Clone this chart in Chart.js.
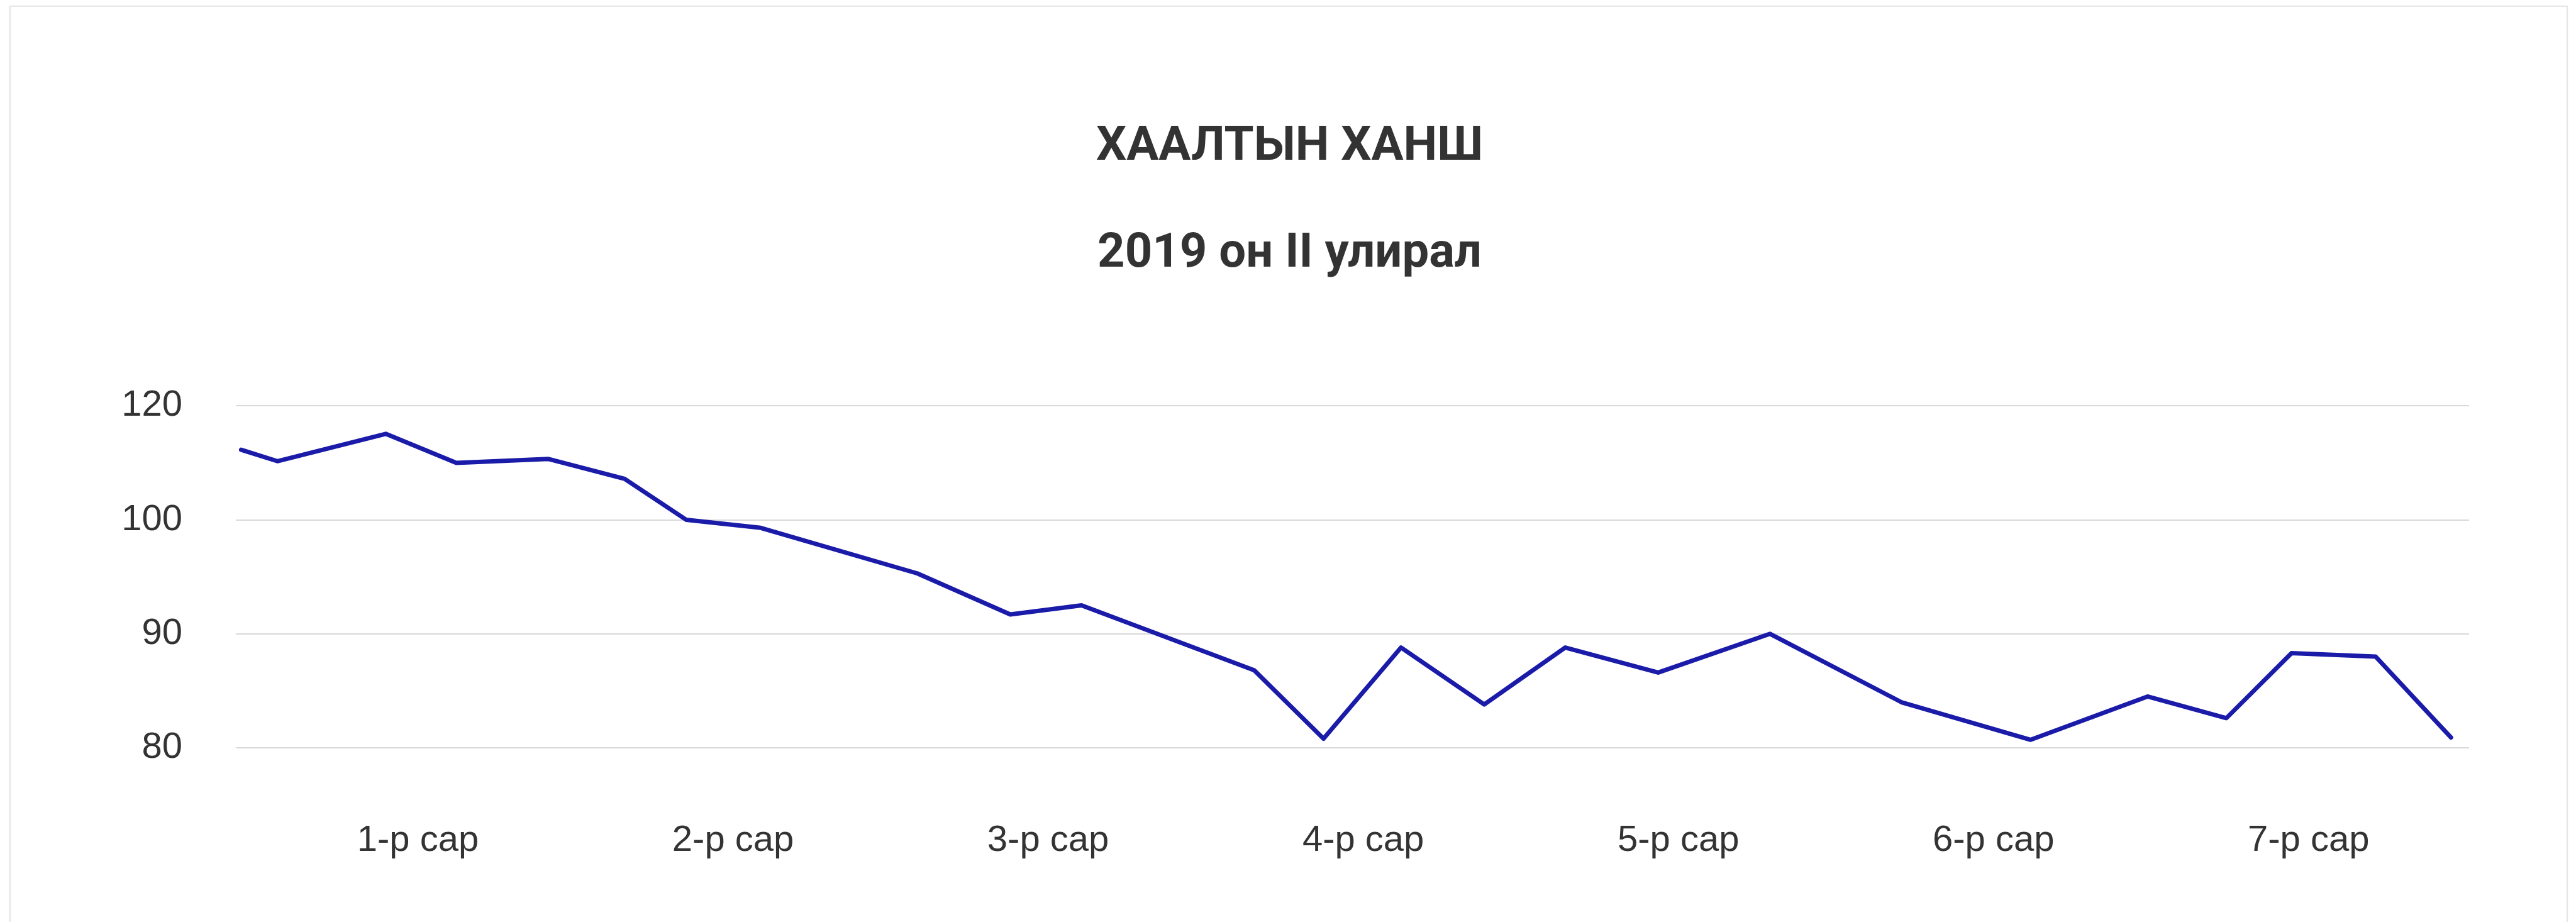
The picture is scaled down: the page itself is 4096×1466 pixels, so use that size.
<!DOCTYPE html>
<html>
<head>
<meta charset="utf-8">
<script src="https://cdn.jsdelivr.net/npm/chart.js@4.4.1/dist/chart.umd.min.js"></script>
<style>
  html, body { margin: 0; padding: 0; background: #ffffff; overflow: hidden; }
  #card { position: absolute; left: 15px; top: 9px; width: 4064px; height: 1500px;
          border: 2px solid #e6e6e6; box-shadow: 0 0 3px rgba(0,0,0,0.06); background: #fff; }
  #wrap { position: absolute; left: 0; top: 0; width: 4096px; height: 1466px; }
</style>
</head>
<body>
<div id="card"></div>
<div id="wrap"><canvas id="c"></canvas></div>
<script>
// ---- data ----
const chartTitle = 'ХААЛТЫН ХАНШ';
const chartSubtitle = '2019 он II улирал';
const monthTickValues = [1, 2, 3, 4, 5, 6, 7];
const monthLabels = ['1-р сар', '2-р сар', '3-р сар', '4-р сар', '5-р сар', '6-р сар', '7-р сар'];
const tradePositions = [0.439, 0.554, 0.898, 1.122, 1.413, 1.656, 1.852, 2.088, 2.585, 2.880,
                        3.106, 3.654, 3.874, 4.120, 4.384, 4.641, 4.936, 5.291, 5.708, 6.118,
                        6.489, 6.739, 6.946, 7.213, 7.452];
const closeRate = [112.3, 110.3, 115.1, 110.0, 110.7, 107.2, 100.0, 99.3, 95.3, 91.7,
                   92.5, 86.8, 80.8, 88.8, 83.8, 88.8, 86.6, 90.0, 84.0, 80.7,
                   84.5, 82.6, 88.3, 88.0, 80.9];
const yTickLabels = [80, 90, 100, 120];

// the value axis has equally spaced bands between its tick labels
function toAxis(v) {
  for (let i = 0; i < yTickLabels.length - 1; i++) {
    const lo = yTickLabels[i], hi = yTickLabels[i + 1];
    if (v <= hi || i === yTickLabels.length - 2) return i + (v - lo) / (hi - lo);
  }
}

const points = tradePositions.map((x, i) => ({ x: x, y: toAxis(closeRate[i]) }));

const FONT = '"Liberation Sans", Arial, sans-serif';
const TITLE_FONT = 'Roboto, "Liberation Sans", Arial, sans-serif';

new Chart(document.getElementById('c'), {
  type: 'line',
  data: {
    datasets: [{
      label: chartTitle,
      data: points,
      borderColor: '#1b1ba9',
      borderWidth: 7,
      pointRadius: 0,
      pointHoverRadius: 0,
      tension: 0,
      borderJoinStyle: 'round',
      borderCapStyle: 'round',
      fill: false
    }]
  },
  options: {
    responsive: true,
    maintainAspectRatio: false,
    animation: false,
    layout: { padding: { left: 175, right: 170, top: 0, bottom: 77 } },
    plugins: {
      legend: { display: false },
      tooltip: { enabled: false },
      title: {
        display: true, text: chartTitle, color: '#333333',
        font: { family: TITLE_FONT, size: 76, weight: 'bold', lineHeight: 1.2 },
        padding: { top: 189, bottom: 0 }
      },
      subtitle: {
        display: true, text: chartSubtitle, color: '#333333',
        font: { family: TITLE_FONT, size: 76, weight: 'bold', lineHeight: 1.2 },
        padding: { top: 79, bottom: 195 }
      }
    },
    scales: {
      x: {
        type: 'linear',
        min: 0.4222, max: 7.5094,
        afterBuildTicks: (s) => { s.ticks = monthTickValues.map(v => ({ value: v })); },
        afterFit: (s) => { s.height = 200; },
        grid: { display: false, drawTicks: false },
        border: { display: false },
        ticks: {
          color: '#333333', padding: 113, maxRotation: 0, autoSkip: false,
          font: { family: FONT, size: 58 },
          callback: (v) => monthLabels[monthTickValues.indexOf(v)]
        }
      },
      y: {
        type: 'linear',
        min: 0, max: yTickLabels.length - 1,
        afterBuildTicks: (s) => { s.ticks = yTickLabels.map((t, i) => ({ value: i })); },
        afterFit: (s) => { s.width = 200; },
        grid: { color: '#d9d9d9', lineWidth: 2, drawTicks: false },
        border: { display: false },
        ticks: {
          color: '#333333', padding: 85,
          font: { family: FONT, size: 58 },
          callback: (v, i) => String(yTickLabels[i])
        }
      }
    }
  }
});
</script>
</body>
</html>
